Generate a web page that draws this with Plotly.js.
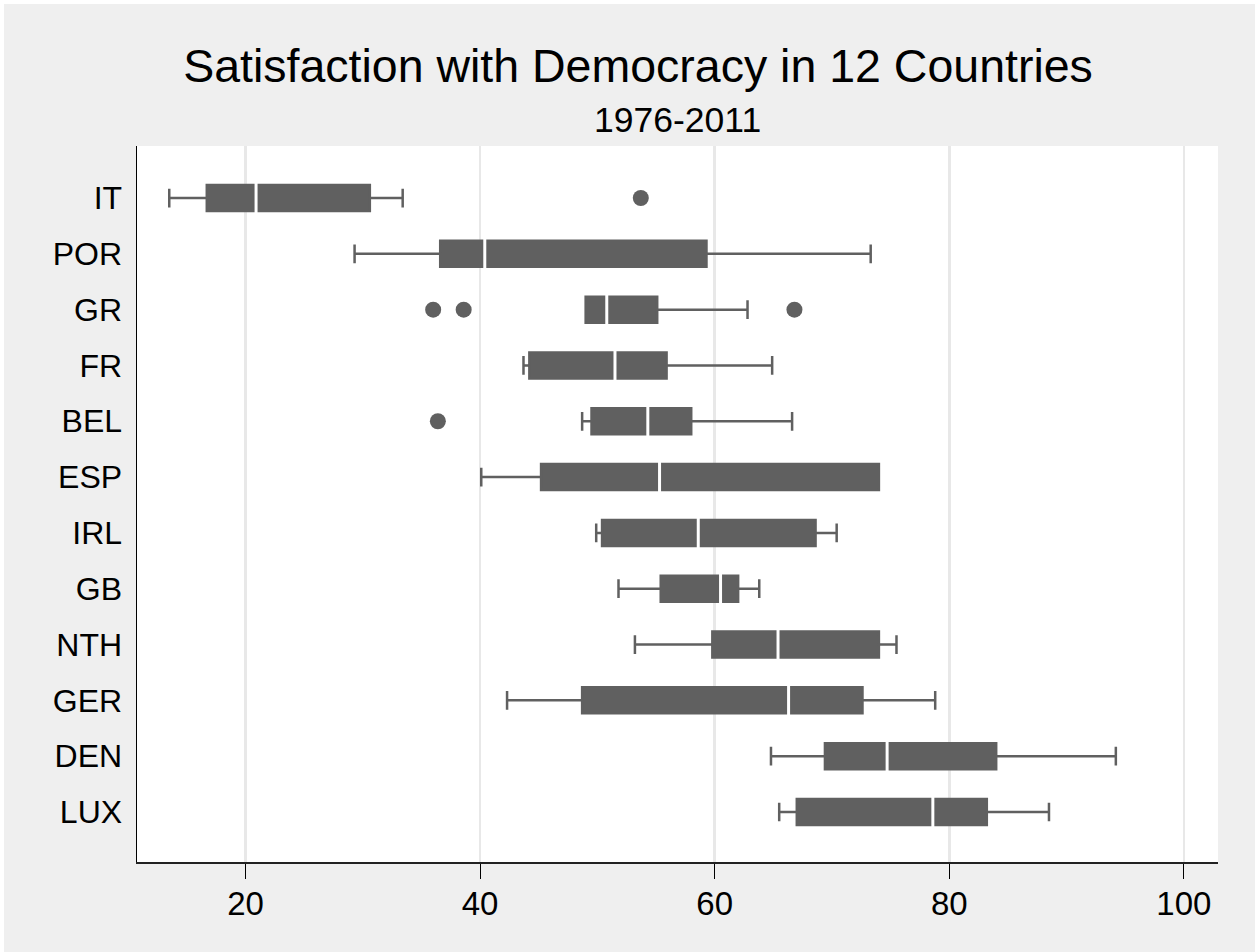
<!DOCTYPE html>
<html>
<head>
<meta charset="utf-8">
<script src="https://cdn.plot.ly/plotly-3.0.1.min.js"></script>
<style>
  html, body { margin: 0; padding: 0; background: #ffffff; }
  #chart { position: absolute; left: 4px; top: 4px; width: 1251px; height: 948px; }
</style>
</head>
<body>
<div id="chart"></div>
<script>
// Countries (top to bottom)
const countries = ["IT", "POR", "GR", "FR", "BEL", "ESP", "IRL", "GB", "NTH", "GER", "DEN", "LUX"];
// Box statistics
const lowerWhisker = [13.5, 29.3, 49.0, 43.7, 48.7, 40.1, 49.9, 51.8, 53.2, 42.3, 64.8, 65.5];
const q1Values     = [16.7, 36.6, 49.0, 44.2, 49.5, 45.2, 50.4, 55.4, 59.8, 48.7, 69.4, 67.0];
const medianValues = [20.9, 40.4, 50.8, 51.5, 54.3, 55.3, 58.6, 60.5, 65.4, 66.3, 74.7, 78.6];
const q3Values     = [30.6, 59.3, 55.1, 55.9, 58.0, 74.0, 68.6, 62.0, 74.0, 72.6, 84.0, 83.2];
const upperWhisker = [33.4, 73.3, 62.8, 64.9, 66.6, 74.0, 70.4, 63.8, 75.5, 78.8, 94.2, 88.5];
// Outside values
const outlierCountry = ["IT", "GR", "GR", "GR", "BEL"];
const outlierValue   = [53.7, 36.0, 38.6, 66.8, 36.4];
// Axis ticks
const xTickValues = [20, 40, 60, 80, 100];

const grey = "#606060";
const font = "Liberation Sans, Arial, sans-serif";

const traces = [
  {
    type: "box",
    orientation: "h",
    y: countries,
    q1: q1Values,
    median: medianValues,
    q3: q3Values,
    lowerfence: lowerWhisker,
    upperfence: upperWhisker,
    boxpoints: false,
    fillcolor: grey,
    line: { color: grey, width: 2.5 },
    whiskerwidth: 0.72,
    hoverinfo: "x",
    showlegend: false
  },
  {
    type: "scatter",
    mode: "markers",
    x: medianValues,
    y: countries,
    marker: { symbol: "line-ns", size: 28, color: "#ffffff", line: { color: "#ffffff", width: 3 } },
    hoverinfo: "x",
    showlegend: false
  },
  {
    type: "scatter",
    mode: "markers",
    x: outlierValue,
    y: outlierCountry,
    marker: { symbol: "circle", size: 16, color: grey },
    hoverinfo: "x",
    showlegend: false
  }
];

const layout = {
  width: 1251,
  height: 948,
  paper_bgcolor: "#efefef",
  plot_bgcolor: "#ffffff",
  margin: { l: 133, r: 37, t: 142, b: 90, pad: 0 },
  font: { family: font, color: "#000000" },
  title: {
    text: "Satisfaction with Democracy in 12 Countries",
    font: { family: font, size: 46.5, color: "#000000" },
    xref: "container",
    x: 0.5068,
    xanchor: "center",
    yref: "container",
    y: 0.9346,
    yanchor: "middle"
  },
  annotations: [
    {
      text: "1976-2011",
      xref: "paper", yref: "paper",
      x: 0.5, y: 1.036,
      xanchor: "center", yanchor: "middle",
      showarrow: false,
      font: { family: font, size: 35.5, color: "#000000" }
    }
  ],
  boxgap: 0.534,
  boxgroupgap: 0,
  xaxis: {
    range: [10.75, 102.91],
    tickvals: xTickValues,
    ticktext: xTickValues.map(String),
    ticks: "outside",
    ticklen: 15,
    tickwidth: 1,
    tickcolor: "#000000",
    tickfont: { family: font, size: 33, color: "#000000" },
    ticklabelstandoff: -3,
    showgrid: true,
    gridcolor: "#e8e8e8",
    gridwidth: 2.5,
    zeroline: false,
    showline: true,
    linecolor: "#222222",
    linewidth: 1.5,
    fixedrange: true
  },
  yaxis: {
    type: "category",
    categoryorder: "array",
    categoryarray: countries,
    range: [11.896, -0.932],
    autorange: false,
    showgrid: false,
    zeroline: false,
    showline: true,
    linecolor: "#000000",
    linewidth: 1.5,
    ticks: "",
    tickfont: { family: font, size: 32, color: "#000000" },
    ticklabelstandoff: 7,
    fixedrange: true
  },
  hovermode: "closest"
};

Plotly.newPlot("chart", traces, layout, { displayModeBar: false, staticPlot: true });
</script>
</body>
</html>
